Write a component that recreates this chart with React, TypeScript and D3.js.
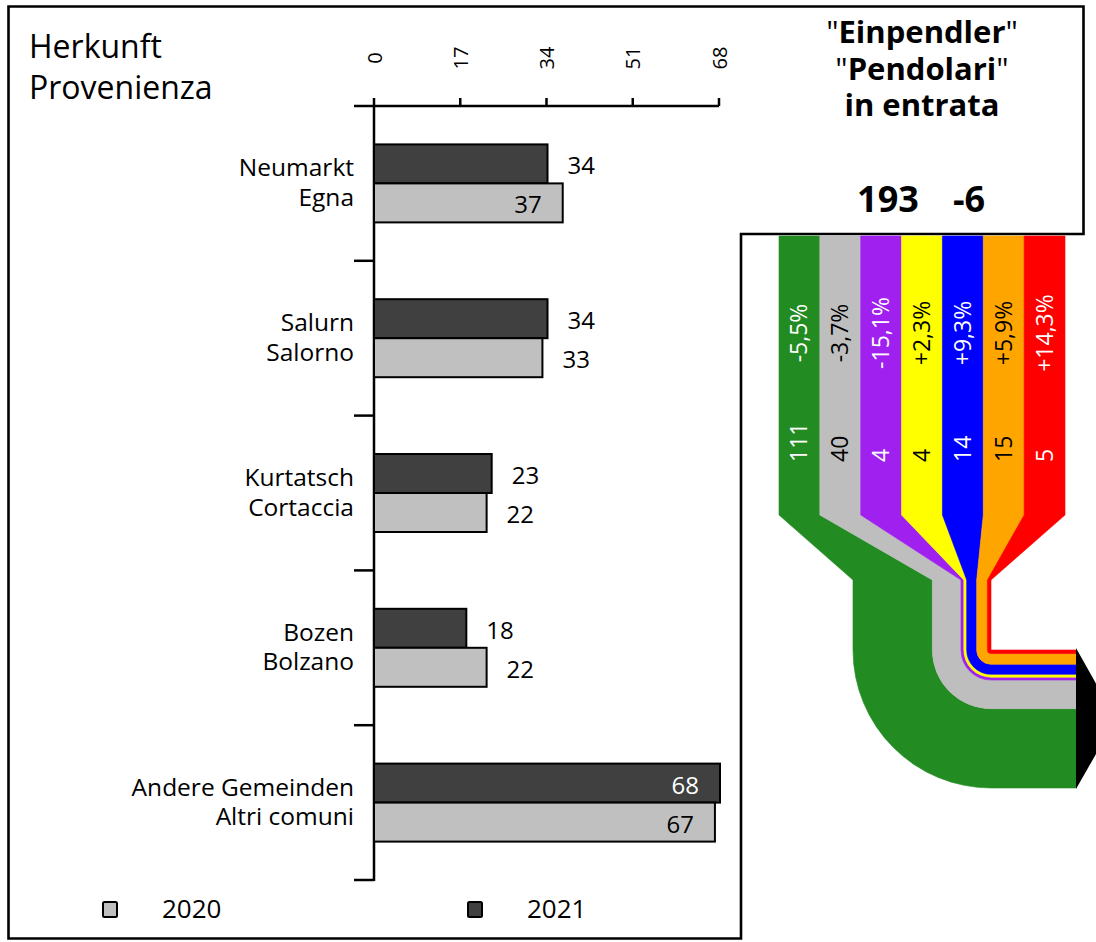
import React from "react";
import * as d3 from "d3";

// Herkunft / Provenienza bar chart
const categoriesDe = ["Neumarkt", "Salurn", "Kurtatsch", "Bozen", "Andere Gemeinden"];
const categoriesIt = ["Egna", "Salorno", "Cortaccia", "Bolzano", "Altri comuni"];
const values2020 = [37, 33, 22, 22, 67];
const values2021 = [34, 34, 23, 18, 68];
const axisTicks = [0, 17, 34, 51, 68];
const years = ["2020", "2021"];

// commuter flows (Einpendler)
const flowValues = [111, 40, 4, 4, 14, 15, 5];
const flowChanges = ["-5,5%", "-3,7%", "-15,1%", "+2,3%", "+9,3%", "+5,9%", "+14,3%"];
const totalCommuters = "193";
const totalChange = "-6";

const flowColors = ["#228b22", "#bebebe", "#a020f0", "#ffff00", "#0000ff", "#ffa500", "#ff0000"];
const flowText = ["#fff", "#000", "#fff", "#000", "#fff", "#000", "#fff"];
const light = "#c0c0c0";
const dark = "#404040";
const font = "'Open Sans', sans-serif";

export default function App() {
  const W = 1096, H = 942;

  // bar chart scales
  const x = d3.scaleLinear().domain([0, 68]).range([374, 719]);
  const y = d3.scaleBand<string>().domain(categoriesDe).range([106, 880]);
  const barH = 39;
  const half = x.domain()[1] / 2;

  // sankey geometry
  const total = d3.sum(flowValues);
  const wScale = d3.scaleLinear().domain([0, total]).range([0, 138]);
  const col = d3.scaleBand<number>().domain(flowValues.map((_, i) => i)).range([779, 1065]);
  const colTop = 236, taperTop = 515, neck = 580;
  const cx = 991, cy = 650, xEnd = 1076;

  const bands = flowValues.map((v, i) => {
    const rOut = wScale(d3.sum(flowValues.slice(i)));
    const rIn = wScale(d3.sum(flowValues.slice(i + 1)));
    const c0 = col(i)!, c1 = c0 + col.bandwidth();
    const p = d3.path();
    p.moveTo(c0, colTop);
    p.lineTo(c1, colTop);
    p.lineTo(c1, taperTop);
    p.lineTo(cx - rIn, neck);
    p.arc(cx, cy, rIn, Math.PI, Math.PI / 2, true);
    p.lineTo(xEnd, cy + rIn);
    p.lineTo(xEnd, cy + rOut);
    p.arc(cx, cy, rOut, Math.PI / 2, Math.PI, false);
    p.lineTo(cx - rOut, neck);
    p.lineTo(c0, taperTop);
    p.closePath();
    return { d: p.toString(), i, v, mid: c0 + col.bandwidth() / 2 };
  });
  const fullR = wScale(total);

  const valueLabel = (v: number, yc: number, fillInside: string) => {
    const inside = v > half;
    return (
      <text
        x={inside ? x(v) - 20 : x(v) + 21}
        y={yc}
        dominantBaseline="central"
        textAnchor={inside ? "end" : "start"}
        fill={inside ? fillInside : "#000"}
        fontSize={24}
      >
        {v}
      </text>
    );
  };

  return (
    <svg
      width={W}
      height={H}
      style={{ position: "absolute", left: 0, top: 0, fontFamily: font }}
    >
      <rect width={W} height={H} fill="#fff" />

      {/* frame */}
      <path
        d="M8.5,6.5 H1083.5 V234 H741 V938.5 H8.5 Z"
        fill="none"
        stroke="#000"
        strokeWidth={2.6}
      />

      {/* titles */}
      <text x={29} y={58} fontSize={32}>Herkunft</text>
      <text x={29} y={99} fontSize={32}>Provenienza</text>

      {/* top axis */}
      <line x1={x(0)} x2={x(68)} y1={106} y2={106} stroke="#000" strokeWidth={2.5} />
      {axisTicks.map((t) => (
        <g key={t}>
          <line x1={x(t)} x2={x(t)} y1={98} y2={106} stroke="#000" strokeWidth={2.5} />
          <text
            transform={`translate(${x(t)},58) rotate(-90)`}
            textAnchor="middle"
            dominantBaseline="central"
            fontSize={20}
          >
            {t}
          </text>
        </g>
      ))}

      {/* category axis */}
      <line x1={374} x2={374} y1={105} y2={881} stroke="#000" strokeWidth={2.5} />
      {[...categoriesDe.map((c) => y(c)!), 880].map((t, i) => (
        <line key={i} x1={354} x2={374} y1={t} y2={t} stroke="#000" strokeWidth={2.5} />
      ))}

      {/* bars */}
      {categoriesDe.map((c, i) => {
        const yc = y(c)! + y.bandwidth() / 2;
        return (
          <g key={c}>
            <rect x={x(0)} y={yc - barH} width={x(values2021[i]) - x(0) + 1} height={barH}
              fill={dark} stroke="#000" strokeWidth={2} />
            <rect x={x(0)} y={yc} width={x(values2020[i]) - x(0) + 1} height={barH}
              fill={light} stroke="#000" strokeWidth={2} />
            {valueLabel(values2021[i], yc - barH / 2 + 1, "#fff")}
            {valueLabel(values2020[i], yc + barH / 2 + 1, "#000")}
            <text x={354} y={yc - 7} textAnchor="end" fontSize={24.5}>{c}</text>
            <text x={354} y={yc + 22.5} textAnchor="end" fontSize={24.5}>{categoriesIt[i]}</text>
          </g>
        );
      })}

      {/* legend */}
      {years.map((yr, i) => (
        <g key={yr} transform={`translate(${i === 0 ? 103 : 468},0)`}>
          <rect x={0} y={902} width={14} height={15} rx={1.5}
            fill={i === 0 ? light : dark} stroke="#000" strokeWidth={2} />
          <text x={59} y={918} fontSize={26}>{yr}</text>
        </g>
      ))}

      {/* Einpendler box */}
      <text x={922} y={43} textAnchor="middle" fontSize={31} fontWeight="bold">
        <tspan fontWeight="normal">"</tspan>Einpendler<tspan fontWeight="normal">"</tspan>
      </text>
      <text x={922} y={79.5} textAnchor="middle" fontSize={31} fontWeight="bold">
        <tspan fontWeight="normal">"</tspan>Pendolari<tspan fontWeight="normal">"</tspan>
      </text>
      <text x={922} y={116} textAnchor="middle" fontSize={31} fontWeight="bold">in entrata</text>
      <text x={888} y={212} textAnchor="middle" fontSize={36} fontWeight="bold">{totalCommuters}</text>
      <text x={969} y={212} textAnchor="middle" fontSize={36} fontWeight="bold">{totalChange}</text>

      {/* sankey flows */}
      {bands.map((b) => (
        <path key={b.i} d={b.d} fill={flowColors[b.i]} stroke={flowColors[b.i]} strokeWidth={0.6} />
      ))}
      <path
        d={`M${xEnd},${cy - 2} L${xEnd + 40},${cy + fullR / 2} L${xEnd},${cy + fullR + 1} Z`}
        fill="#000"
      />
      {bands.map((b) => (
        <g key={"t" + b.i} fill={flowText[b.i]} fontSize={23}>
          <text
            transform={`translate(${b.mid - 1},333) rotate(-90)`}
            textAnchor="middle"
            dominantBaseline="central"
          >
            {flowChanges[b.i]}
          </text>
          <text
            transform={`translate(${b.mid - 1},462) rotate(-90)`}
            textAnchor="start"
            dominantBaseline="central"
          >
            {b.v}
          </text>
        </g>
      ))}
    </svg>
  );
}
